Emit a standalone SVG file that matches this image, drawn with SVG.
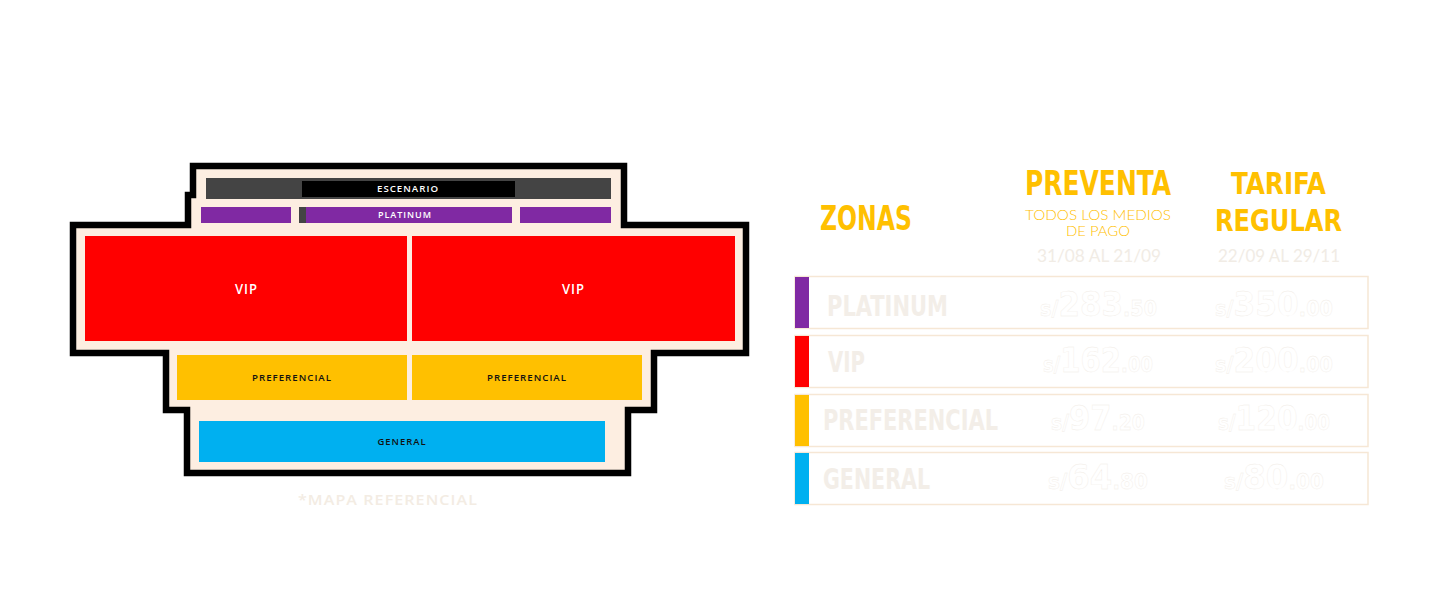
<svg xmlns="http://www.w3.org/2000/svg" width="1440" height="605" viewBox="0 0 1440 605">
<style>
.cond{font-family:"DejaVu Sans Condensed","DejaVu Sans",sans-serif;font-weight:bold}
.title{fill:#ffc000;font-size:34px}
.title2{fill:#ffc000;font-size:30px}
.zlabel{fill:#f3eee8;font-size:29px}
.price{fill:#ffffff;stroke:#f1ece6;stroke-width:0.35;font-size:34px}
.sm{font-size:21px}
.thin{font-family:Lato,"Open Sans",sans-serif;font-weight:300;fill:#ffc000;font-size:14px}
.date{font-family:Lato,"Open Sans",sans-serif;font-weight:400;fill:#f1ece5;font-size:18px}
.mlabel{font-family:"Open Sans","DejaVu Sans",sans-serif;font-weight:600;text-anchor:middle;letter-spacing:1px}
.row{fill:#ffffff;stroke:#f6e7d5;stroke-width:1.5}
</style>
<rect width="1440" height="605" fill="#ffffff"/>
<g id="map">
  <path id="venue-outline" d="M193,166 L624,166 L624,225 L746,225 L746,353 L654,353 L654,410 L628,410 L628,473 L187,473 L187,410 L166,410 L166,353 L73,353 L73,225 L188,225 L188,195 L193,195 Z" fill="#fdeee1" stroke="#000000" stroke-width="6.5" stroke-linejoin="miter"/>
  <g id="escenario">
    <rect x="206" y="178" width="405" height="21" fill="#444444"/>
    <rect x="302" y="181" width="213" height="16" fill="#000000"/>
    <text class="mlabel" x="408" y="191.8" font-size="9.5" fill="#ffffff" textLength="62" lengthAdjust="spacingAndGlyphs">ESCENARIO</text>
  </g>
  <g id="platinum">
    <rect x="201" y="207" width="90" height="16" fill="#8029a3"/>
    <rect x="299" y="207" width="7" height="16" fill="#444444"/>
    <rect x="306" y="207" width="206" height="16" fill="#8029a3"/>
    <rect x="520" y="207" width="91" height="16" fill="#8029a3"/>
    <text class="mlabel" x="405" y="217.6" font-size="9.5" fill="#ffffff" textLength="54" lengthAdjust="spacingAndGlyphs">PLATINUM</text>
  </g>
  <g id="vip-left">
    <rect x="85" y="236" width="322" height="105" fill="#ff0000"/>
    <text class="mlabel" x="246.5" y="294" font-size="13.5" fill="#ffffff" textLength="23" lengthAdjust="spacingAndGlyphs">VIP</text>
  </g>
  <g id="vip-right">
    <rect x="412" y="236" width="323" height="105" fill="#ff0000"/>
    <text class="mlabel" x="573.5" y="294" font-size="13.5" fill="#ffffff" textLength="23" lengthAdjust="spacingAndGlyphs">VIP</text>
  </g>
  <g id="preferencial-left">
    <rect x="177" y="355" width="230" height="45" fill="#ffc000"/>
    <text class="mlabel" x="292" y="381" font-size="9.5" fill="#111111" textLength="80" lengthAdjust="spacingAndGlyphs">PREFERENCIAL</text>
  </g>
  <g id="preferencial-right">
    <rect x="412" y="355" width="230" height="45" fill="#ffc000"/>
    <text class="mlabel" x="527" y="381" font-size="9.5" fill="#111111" textLength="80" lengthAdjust="spacingAndGlyphs">PREFERENCIAL</text>
  </g>
  <g id="general">
    <rect x="199" y="421" width="406" height="41" fill="#00b0f0"/>
    <text class="mlabel" x="402" y="444.5" font-size="9.5" fill="#111111" textLength="49" lengthAdjust="spacingAndGlyphs">GENERAL</text>
  </g>
  <text id="mapa-note" class="mlabel" x="388" y="505" font-size="15" font-weight="700" fill="#f3ece3" textLength="180" lengthAdjust="spacingAndGlyphs">*MAPA REFERENCIAL</text>
</g>
<g id="connectors"/>
<g id="table">
  <g id="headers">
    <text class="cond title" x="820" y="230" textLength="92" lengthAdjust="spacingAndGlyphs">ZONAS</text>
    <text class="cond title" x="1025" y="195" textLength="146" lengthAdjust="spacingAndGlyphs">PREVENTA</text>
    <text class="thin" x="1025" y="220" textLength="146" lengthAdjust="spacingAndGlyphs">TODOS LOS MEDIOS</text>
    <text class="thin" x="1066" y="236" textLength="64" lengthAdjust="spacingAndGlyphs">DE PAGO</text>
    <text class="date" x="1037" y="262" textLength="124" lengthAdjust="spacingAndGlyphs">31/08 AL 21/09</text>
    <text class="cond title2" x="1231" y="194" textLength="95" lengthAdjust="spacingAndGlyphs">TARIFA</text>
    <text class="cond title2" x="1215" y="231" textLength="127" lengthAdjust="spacingAndGlyphs">REGULAR</text>
    <text class="date" x="1218" y="262" textLength="122" lengthAdjust="spacingAndGlyphs">22/09 AL 29/11</text>
  </g>
  <g id="row-platinum">
    <rect class="row" x="795" y="276.5" width="573" height="52"/>
    <rect x="795" y="277" width="14" height="51" fill="#8029a3"/>
    <text class="cond zlabel" x="827" y="316" textLength="121" lengthAdjust="spacingAndGlyphs">PLATINUM</text>
    <text class="cond price" x="1040" y="316" textLength="117" lengthAdjust="spacingAndGlyphs"><tspan class="sm">s/</tspan>283<tspan class="sm">.50</tspan></text>
    <text class="cond price" x="1215" y="316" textLength="118" lengthAdjust="spacingAndGlyphs"><tspan class="sm">s/</tspan>350<tspan class="sm">.00</tspan></text>
  </g>
  <g id="row-vip">
    <rect class="row" x="795" y="335.5" width="573" height="52"/>
    <rect x="795" y="336" width="14" height="51" fill="#ff0000"/>
    <text class="cond zlabel" x="828" y="372" textLength="37" lengthAdjust="spacingAndGlyphs">VIP</text>
    <text class="cond price" x="1043" y="372" textLength="110" lengthAdjust="spacingAndGlyphs"><tspan class="sm">s/</tspan>162<tspan class="sm">.00</tspan></text>
    <text class="cond price" x="1215" y="372" textLength="118" lengthAdjust="spacingAndGlyphs"><tspan class="sm">s/</tspan>200<tspan class="sm">.00</tspan></text>
  </g>
  <g id="row-preferencial">
    <rect class="row" x="795" y="394.5" width="573" height="52"/>
    <rect x="795" y="395" width="14" height="51" fill="#ffc000"/>
    <text class="cond zlabel" x="823" y="430" textLength="175" lengthAdjust="spacingAndGlyphs">PREFERENCIAL</text>
    <text class="cond price" x="1051" y="430" textLength="94" lengthAdjust="spacingAndGlyphs"><tspan class="sm">s/</tspan>97<tspan class="sm">.20</tspan></text>
    <text class="cond price" x="1218" y="430" textLength="112" lengthAdjust="spacingAndGlyphs"><tspan class="sm">s/</tspan>120<tspan class="sm">.00</tspan></text>
  </g>
  <g id="row-general">
    <rect class="row" x="795" y="452.5" width="573" height="52"/>
    <rect x="795" y="453" width="14" height="51" fill="#00b0f0"/>
    <text class="cond zlabel" x="823" y="489" textLength="107" lengthAdjust="spacingAndGlyphs">GENERAL</text>
    <text class="cond price" x="1048" y="489" textLength="100" lengthAdjust="spacingAndGlyphs"><tspan class="sm">s/</tspan>64<tspan class="sm">.80</tspan></text>
    <text class="cond price" x="1224" y="489" textLength="100" lengthAdjust="spacingAndGlyphs"><tspan class="sm">s/</tspan>80<tspan class="sm">.00</tspan></text>
  </g>
</g>
</svg>
